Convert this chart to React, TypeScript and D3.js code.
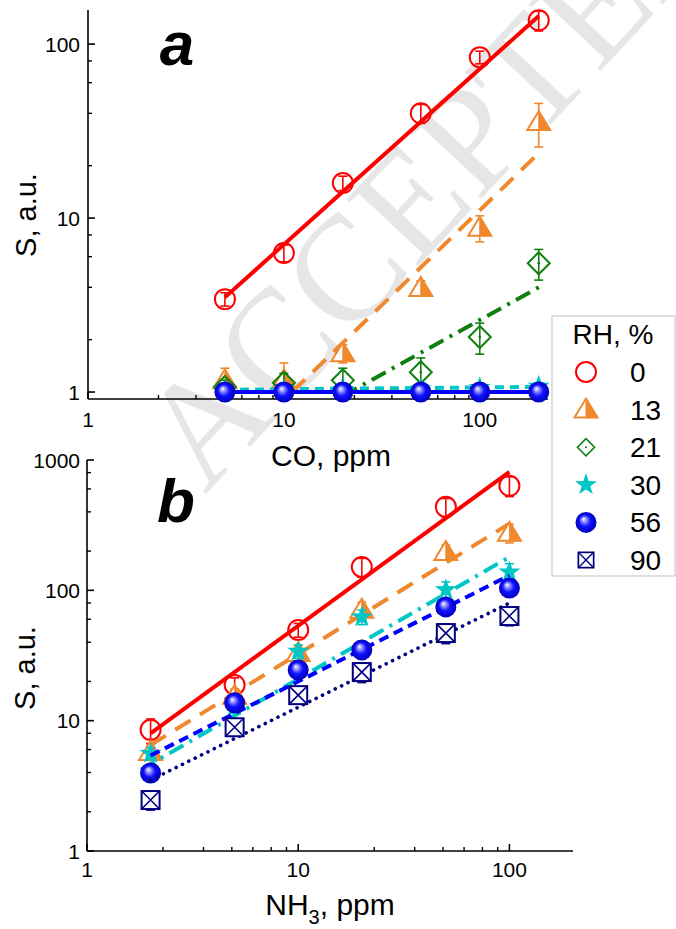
import React from 'react';
import * as d3 from 'd3';

// ---------- data ----------
const coX = [5, 10, 20, 50, 100, 200];
const nh3X = [2, 5, 10, 20, 50, 100];
const rhLabels = ['0', '13', '21', '30', '56', '90'];

// panel a (CO)
const coS0 = [3.42, 6.3, 15.9, 40, 84, 137];
const coE0 = [0.3, 0.7, 1.5, 5, 7, 18];
const coS13 = [1.17, 1.17, 1.67, 3.96, 8.8, 35.6];
const coE13 = [0.2, 0.3, 0.2, 0.4, 1.5, 10];
const coS21 = [1.07, 1.13, 1.17, 1.3, 2.07, 5.5];
const coE21 = [0.1, 0.15, 0.2, 0.27, 0.42, 1.1];
const coS30 = [1.02, 1.02, 1.03, 1.04, 1.06, 1.08];
const coE30 = [0.04, 0.04, 0.04, 0.04, 0.04, 0.04];
const coS56 = [1.0, 1.0, 1.0, 1.0, 1.0, 1.0];
const coE56 = [0.02, 0.02, 0.02, 0.02, 0.02, 0.02];

// fit lines panel a: [x0, x1], [y0, y1]
const coFitX0 = [5, 200]; const coFitY0 = [3.5, 145];
const coFitX13 = [11, 200]; const coFitY13 = [1.0, 23.6];
const coFitX21 = [20, 200]; const coFitY21 = [0.95, 4.0];
const coFitX30 = [5, 200]; const coFitY30 = [1.03, 1.07];
const coFitX56 = [5, 200]; const coFitY56 = [1.0, 1.0];

// panel b (NH3)
const nhS0 = [8.5, 18.8, 49.7, 151, 437, 634];
const nhE0 = [1.8, 2.5, 6, 25, 70, 110];
const nhS13 = [5.75, 15.5, 33, 71, 197, 276];
const nhE13 = [0.8, 2, 5, 10, 25, 45];
const nhS30 = [5.6, 13, 34, 62.5, 101, 138];
const nhE30 = [0.6, 1.6, 4, 8, 15, 22];
const nhS56 = [3.97, 13.7, 24.5, 34.9, 74.6, 104];
const nhE56 = [0.5, 1.5, 3, 5, 9, 14];
const nhS90 = [2.46, 8.9, 15.7, 23.6, 47, 63.5];
const nhE90 = [0.4, 1.2, 2, 4, 8, 10];

const nhFitX0 = [2, 100]; const nhFitY0 = [8.0, 811];
const nhFitX13 = [2, 100]; const nhFitY13 = [6.5, 325];
const nhFitX30 = [1.8, 100]; const nhFitY30 = [4.2, 180];
const nhFitX56 = [2, 100]; const nhFitY56 = [5.4, 130];
const nhFitX90 = [2, 100]; const nhFitY90 = [3.5, 80];

const majorTicksA = [1, 10, 100];
const majorTicksXA = [1, 10, 100];
const majorTicksB = [1, 10, 100, 1000];
const majorTicksXB = [1, 10, 100];
const yMinorMult = [2, 4, 6, 8];
const xMinorMult = [2.29, 3.56, 4.85, 6.1, 7.45, 8.8];

// ---------- styles ----------
const RED = '#ff0000';
const ORANGE = '#f0892e';
const GREEN = '#0f800f';
const CYAN = '#00c6c6';
const BLUE = '#0000ff';
const NAVY = '#000080';
const FONT = "'Liberation Sans', Arial, sans-serif";

type MType = 'circle' | 'tri' | 'diamond' | 'star' | 'sphere' | 'square';

function starPath(R: number, r: number) {
  const pts: string[] = [];
  for (let i = 0; i < 10; i++) {
    const a = -Math.PI / 2 + (i * Math.PI) / 5;
    const rr = i % 2 === 0 ? R : r;
    pts.push(`${(rr * Math.cos(a)).toFixed(2)},${(rr * Math.sin(a)).toFixed(2)}`);
  }
  return 'M' + pts.join('L') + 'Z';
}

function Marker({ t, x, y, s = 1 }: { t: MType; x: number; y: number; s?: number }) {
  const tr = `translate(${x},${y}) scale(${s})`;
  switch (t) {
    case 'circle':
      return <circle transform={tr} r={10} fill="none" stroke={RED} strokeWidth={2} />;
    case 'tri':
      return (
        <g transform={tr}>
          <path d="M0,-11L11.5,8L-11.5,8Z" fill="#fff" stroke={ORANGE} strokeWidth={2} strokeLinejoin="miter" />
          <path d="M0,-11L11.5,8L0,8Z" fill={ORANGE} stroke={ORANGE} strokeWidth={1} />
        </g>
      );
    case 'diamond':
      return (
        <g transform={tr}>
          <path d="M0,-11L11,0L0,11L-11,0Z" fill="none" stroke={GREEN} strokeWidth={2} />
          <circle r={1.3} fill={GREEN} />
        </g>
      );
    case 'star':
      return <path transform={tr} d={starPath(11.5, 4.6)} fill={CYAN} />;
    case 'sphere':
      return <circle transform={tr} r={10.5} fill="url(#sph)" />;
    case 'square':
      return (
        <g transform={tr}>
          <rect x={-9} y={-9} width={18} height={18} fill="#fff" stroke={NAVY} strokeWidth={2} />
          <path d="M-9,-9L9,9M9,-9L-9,9" stroke={NAVY} strokeWidth={1.6} />
        </g>
      );
  }
  return null;
}

type Series = {
  xs: number[]; ys: number[]; es: number[]; t: MType; color: string;
  fx: number[]; fy: number[]; dash: string; lw: number; cap?: 'round' | 'butt';
};

function Panel({ xs, ys, series, yMin }: { xs: any; ys: any; series: Series[]; yMin: number }) {
  const line = d3.line<[number, number]>().x(d => xs(d[0])).y(d => ys(d[1]));
  return (
    <g>
      {series.map((s, i) => (
        <g key={i}>
          <path
            d={line(s.fx.map((v, j) => [v, s.fy[j]] as [number, number])) || ''}
            fill="none" stroke={s.color} strokeWidth={s.lw}
            strokeDasharray={s.dash} strokeLinecap={s.cap || 'butt'}
          />
          {s.xs.map((xv, j) => {
            const px = xs(xv);
            const lo = ys(Math.max(s.ys[j] - s.es[j], yMin));
            const hi = ys(s.ys[j] + s.es[j]);
            return (
              <g key={j} stroke={s.color} strokeWidth={1.6}>
                <line x1={px} x2={px} y1={lo} y2={hi} />
                <line x1={px - 4.5} x2={px + 4.5} y1={hi} y2={hi} />
                <line x1={px - 4.5} x2={px + 4.5} y1={lo} y2={lo} />
              </g>
            );
          })}
          {s.xs.map((xv, j) => (
            <Marker key={'m' + j} t={s.t} x={xs(xv)} y={ys(s.ys[j])} />
          ))}
        </g>
      ))}
    </g>
  );
}

function Axes({ xs, ys, xMajor, yMajor, xLabelBase }: { xs: any; ys: any; xMajor: number[]; yMajor: number[]; xLabelBase: number }) {
  const [x0, x1] = xs.range();
  const [yb, yt] = ys.range();
  const xd = xs.domain();
  const yd = ys.domain();
  const xMinor: number[] = [];
  for (let d = 1; d <= 1000; d *= 10) xMinorMult.forEach(m => { const v = m * d; if (v > xd[0] && v < xd[1]) xMinor.push(v); });
  const yMinor: number[] = [];
  for (let d = 1; d <= 1000; d *= 10) yMinorMult.forEach(m => { const v = m * d; if (v > yd[0] && v < yd[1]) yMinor.push(v); });
  return (
    <g>
      <line x1={x0} x2={x0} y1={yt} y2={yb} stroke="#000" strokeWidth={1.6} />
      <line x1={x0} x2={x1} y1={yb} y2={yb} stroke="#000" strokeWidth={1.6} />
      {yMajor.map(v => (
        <g key={'ym' + v}>
          <line x1={x0} x2={x0 + 7} y1={ys(v)} y2={ys(v)} stroke="#000" strokeWidth={1.6} />
          <text x={80} y={ys(v)} dy="0.36em" textAnchor="end" fontSize={21} fontFamily={FONT}>{v}</text>
        </g>
      ))}
      {yMinor.map(v => (
        <line key={'yn' + v} x1={x0} x2={x0 + 4} y1={ys(v)} y2={ys(v)} stroke="#000" strokeWidth={1.4} />
      ))}
      {xMajor.map(v => (
        <g key={'xm' + v}>
          <line x1={xs(v)} x2={xs(v)} y1={yb} y2={yb - 7} stroke="#000" strokeWidth={1.6} />
          <text x={xs(v)} y={xLabelBase} textAnchor="middle" fontSize={21} fontFamily={FONT}>{v}</text>
        </g>
      ))}
      {xMinor.map(v => (
        <line key={'xn' + v} x1={xs(v)} x2={xs(v)} y1={yb} y2={yb - 4} stroke="#000" strokeWidth={1.4} />
      ))}
    </g>
  );
}

export default function App() {
  const xA = d3.scaleLog().domain([1, 223]).range([88, 548]);
  const yA = d3.scaleLog().domain([0.912, 157]).range([399, 10]);
  const xB = d3.scaleLog().domain([1, 200]).range([87, 573]);
  const yB = d3.scaleLog().domain([1, 1000]).range([851, 460]);

  const seriesA: Series[] = [
    { xs: coX, ys: coS0, es: coE0, t: 'circle', color: RED, fx: coFitX0, fy: coFitY0, dash: '', lw: 4 },
    { xs: coX, ys: coS13, es: coE13, t: 'tri', color: ORANGE, fx: coFitX13, fy: coFitY13, dash: '18,11', lw: 4 },
    { xs: coX, ys: coS21, es: coE21, t: 'diamond', color: GREEN, fx: coFitX21, fy: coFitY21, dash: '16,7,3,7', lw: 4 },
    { xs: coX, ys: coS30, es: coE30, t: 'star', color: CYAN, fx: coFitX30, fy: coFitY30, dash: '9,6', lw: 4 },
    { xs: coX, ys: coS56, es: coE56, t: 'sphere', color: BLUE, fx: coFitX56, fy: coFitY56, dash: '', lw: 4 },
  ];
  const seriesB: Series[] = [
    { xs: nh3X, ys: nhS0, es: nhE0, t: 'circle', color: RED, fx: nhFitX0, fy: nhFitY0, dash: '', lw: 4 },
    { xs: nh3X, ys: nhS13, es: nhE13, t: 'tri', color: ORANGE, fx: nhFitX13, fy: nhFitY13, dash: '18,11', lw: 4 },
    { xs: nh3X, ys: nhS30, es: nhE30, t: 'star', color: CYAN, fx: nhFitX30, fy: nhFitY30, dash: '16,7,3,7', lw: 4 },
    { xs: nh3X, ys: nhS56, es: nhE56, t: 'sphere', color: BLUE, fx: nhFitX56, fy: nhFitY56, dash: '10,6', lw: 4 },
    { xs: nh3X, ys: nhS90, es: nhE90, t: 'square', color: NAVY, fx: nhFitX90, fy: nhFitY90, dash: '0.1,7', lw: 3.6, cap: 'round' },
  ];
  const legendTypes: MType[] = ['circle', 'tri', 'diamond', 'star', 'sphere', 'square'];
  const legendScale = [1, 1, 0.78, 1, 1, 0.85];

  return (
    <svg width={676} height={929} style={{ position: 'absolute', left: 0, top: 0, background: '#fff' }} fontFamily={FONT}>
      <defs>
        <radialGradient id="sph" cx="0.5" cy="0.5" r="0.5" fx="0.38" fy="0.33">
          <stop offset="0%" stopColor="#ffffff" />
          <stop offset="22%" stopColor="#9a9aff" />
          <stop offset="55%" stopColor="#1010ff" />
          <stop offset="100%" stopColor="#0000b8" />
        </radialGradient>
      </defs>
      <rect width={676} height={929} fill="#fff" />
      {/* watermark */}
      <text x={205} y={495} transform="rotate(-47 205 495)" fontFamily="'Liberation Serif', 'DejaVu Serif', serif" fontSize={150} fill="#e6e6e6">ACCEPTED</text>

      <Axes xs={xA} ys={yA} xMajor={majorTicksXA} yMajor={majorTicksA} xLabelBase={427} />
      <Panel xs={xA} ys={yA} series={seriesA} yMin={0.912} />
      <Axes xs={xB} ys={yB} xMajor={majorTicksXB} yMajor={majorTicksB} xLabelBase={877} />
      <Panel xs={xB} ys={yB} series={seriesB} yMin={1} />

      {/* titles */}
      <text transform="translate(36,215) rotate(-90)" textAnchor="middle" fontSize={29}>S, a.u.</text>
      <text transform="translate(35,668) rotate(-90)" textAnchor="middle" fontSize={29}>S, a.u.</text>
      <text x={331} y={466} textAnchor="middle" fontSize={30}>CO, ppm</text>
      <text x={330} y={915} textAnchor="middle" fontSize={30}>NH<tspan fontSize={20} dy={9}>3</tspan><tspan dy={-9}>, ppm</tspan></text>
      <text x={177} y={65} textAnchor="middle" fontSize={62} fontWeight="bold" fontStyle="italic">a</text>
      <text x={176} y={522} textAnchor="middle" fontSize={62} fontWeight="bold" fontStyle="italic">b</text>

      {/* legend */}
      <rect x={552} y={316} width={123} height={260} fill="#fff" stroke="#cccccc" strokeWidth={1.2} />
      <text x={613} y={344} textAnchor="middle" fontSize={28}>RH, %</text>
      {rhLabels.map((l, i) => {
        const cy = 372 + i * 37.6;
        return (
          <g key={l}>
            <Marker t={legendTypes[i]} x={586} y={cy} s={legendScale[i]} />
            <text x={630} y={cy} dy="0.36em" fontSize={28}>{l}</text>
          </g>
        );
      })}
    </svg>
  );
}
